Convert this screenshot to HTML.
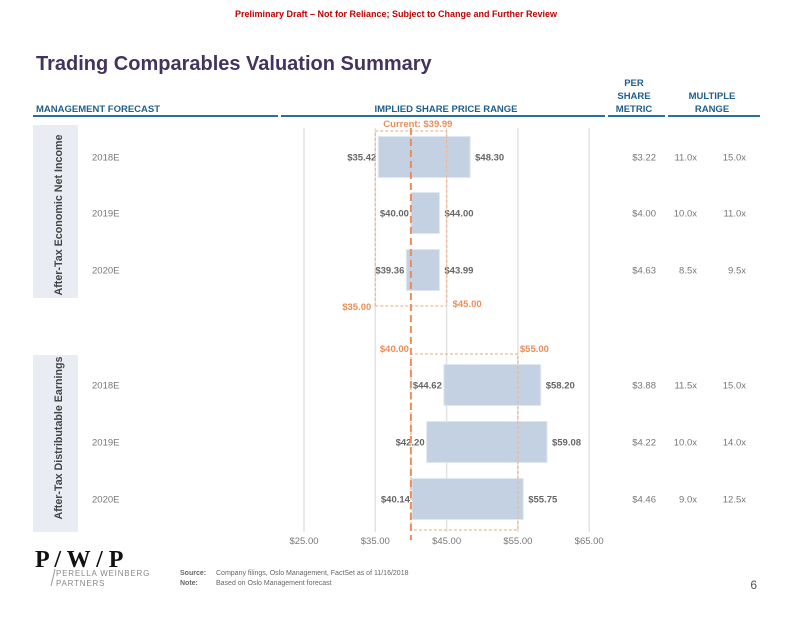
<!DOCTYPE html>
<html><head><meta charset="utf-8"><style>
body{margin:0;background:#fff;font-family:"Liberation Sans",sans-serif}
svg text{font-family:"Liberation Sans",sans-serif}
svg text.serif{font-family:"Liberation Serif",serif}
</style></head><body>
<svg id="c" width="792" height="612" viewBox="0 0 792 612" xmlns="http://www.w3.org/2000/svg">
<text x="396" y="17" text-anchor="middle" font-size="9" font-weight="bold" fill="#c00000">Preliminary Draft – Not for Reliance; Subject to Change and Further Review</text>
<text x="36" y="70" font-size="20" font-weight="bold" fill="#43335f">Trading Comparables Valuation Summary</text>
<g font-size="9.5" font-weight="bold" fill="#1f5f8b">
<text x="36" y="112">MANAGEMENT FORECAST</text>
<text x="446" y="112" text-anchor="middle">IMPLIED SHARE PRICE RANGE</text>
<text x="634" y="86" text-anchor="middle">PER</text>
<text x="634" y="99" text-anchor="middle">SHARE</text>
<text x="634" y="112" text-anchor="middle">METRIC</text>
<text x="712" y="99" text-anchor="middle">MULTIPLE</text>
<text x="712" y="112" text-anchor="middle">RANGE</text>
</g>
<g stroke="#2e6f96" stroke-width="2">
<line x1="33" y1="116" x2="278" y2="116"/><line x1="281" y1="116" x2="605" y2="116"/>
<line x1="608" y1="116" x2="665" y2="116"/><line x1="668" y1="116" x2="760" y2="116"/>
</g>
<rect x="33" y="125" width="45" height="173" fill="#e9edf3"/>
<rect x="33" y="355" width="45" height="177" fill="#e9edf3"/>
<text transform="translate(62,215) rotate(-90)" text-anchor="middle" font-size="11" font-weight="bold" fill="#444" textLength="161" lengthAdjust="spacingAndGlyphs">After-Tax Economic Net Income</text>
<text transform="translate(62,438) rotate(-90)" text-anchor="middle" font-size="11" font-weight="bold" fill="#444" textLength="163" lengthAdjust="spacingAndGlyphs">After-Tax Distributable Earnings</text>
<g id="grid"></g><g id="bars"></g><g id="ref"></g><g id="rows"></g>
<g>
<text class="serif" x="35" y="567" font-size="24" font-weight="bold" fill="#111">P / W / P</text>
<text x="56" y="576" font-size="8" fill="#888" letter-spacing="0.8">PERELLA WEINBERG</text>
<text x="56" y="586" font-size="8" fill="#888" letter-spacing="0.8">PARTNERS</text>
<line x1="51" y1="586" x2="55" y2="569" stroke="#999"/>
</g>
<g font-size="7" fill="#666">
<text x="180" y="575" font-weight="bold">Source:</text><text x="216" y="575">Company filings, Oslo Management, FactSet as of 11/16/2018</text>
<text x="180" y="585" font-weight="bold">Note:</text><text x="216" y="585">Based on Oslo Management forecast</text>
</g>
<text x="757" y="589" font-size="12" fill="#555" text-anchor="end">6</text>
</svg>
<script>
const years=["2018E","2019E","2020E","2018E","2019E","2020E"];
const lows=[35.42,40.00,39.36,44.62,42.20,40.14];
const highs=[48.30,44.00,43.99,58.20,59.08,55.75];
const metrics=["$3.22","$4.00","$4.63","$3.88","$4.22","$4.46"];
const multLow=["11.0x","10.0x","8.5x","11.5x","10.0x","9.0x"];
const multHigh=["15.0x","11.0x","9.5x","15.0x","14.0x","12.5x"];
const ticks=[25,35,45,55,65];
const current=39.99;
const ranges=[[35,45],[40,55]];
const rowY=[157,213,270,385,442,499];
const NS="http://www.w3.org/2000/svg";
const x=v=>304+(v-25)*7.13;
function mk(p,t,a,txt){const e=document.createElementNS(NS,t);for(const k in a)e.setAttribute(k,a[k]);if(txt!=null)e.textContent=txt;p.appendChild(e);return e;}
const G=document.getElementById('grid'),B=document.getElementById('bars'),R=document.getElementById('ref'),W=document.getElementById('rows');
ticks.forEach(t=>{
 const l=mk(G,'line',{x1:x(t),x2:x(t),y1:128,y2:532,stroke:'#e3e3e3','stroke-width':1.5});
 
 
 const tx=mk(G,'text',{x:x(t),y:544,'text-anchor':'middle','font-size':9.5,fill:'#777'},'$'+t.toFixed(2));
 
 
});
lows.forEach((lo,i)=>{
 const y=rowY[i],hi=highs[i];
 const r=mk(B,'rect',{x:x(lo),y:y-20.5,width:x(hi)-x(lo),height:41,fill:'#c3d1e3',stroke:'#dfe7f1'});
 
 
 const a=mk(B,'text',{x:x(lo)-2,y:y+3.5,'text-anchor':'end','font-size':9.5,'font-weight':'bold',fill:'#666'},'$'+lo.toFixed(2));
 
 
 const b=mk(B,'text',{x:x(hi)+5,y:y+3.5,'font-size':9.5,'font-weight':'bold',fill:'#666'},'$'+hi.toFixed(2));
 
 
 const c=mk(W,'text',{x:92,y:y+3.5,'font-size':9.5,fill:'#777'},years[i]);
 
 
 const d=mk(W,'text',{x:656,y:y+3.5,'text-anchor':'end','font-size':9.5,fill:'#777'},metrics[i]);
 
 
 const e=mk(W,'text',{x:697,y:y+3.5,'text-anchor':'end','font-size':9.5,fill:'#777'},multLow[i]);
 
 
 const f=mk(W,'text',{x:746,y:y+3.5,'text-anchor':'end','font-size':9.5,fill:'#777'},multHigh[i]);
 
 
});
const boxY=[[131,306],[354,530]];
ranges.forEach((rg,i)=>{
 const [a,b]=rg,[y1,y2]=boxY[i];
 const p=mk(R,'path',{d:`M${x(a)},${y2} V${y1} H${x(b)} V${y2}`+(i==0?` M${x(a)},${y2} H${x(b)}`:` H${x(a)}`),fill:'none',stroke:'#f2b894','stroke-width':1.3,'stroke-dasharray':'3,2'});
 
 
 const ly=i==0?y2+4:y1-2, ry=i==0?y2+1:y1-2;
 const t1=mk(R,'text',{x:x(a)-(i==0?4:2),y:ly,'text-anchor':'end','font-size':9.5,'font-weight':'bold',fill:'#ee8c59'},'$'+a.toFixed(2));
 
 
 const t2=mk(R,'text',{x:x(b)+(i==0?6:2),y:ry,'font-size':9.5,'font-weight':'bold',fill:'#ee8c59'},'$'+b.toFixed(2));
 
 
});
const cl=mk(R,'line',{x1:x(current),x2:x(current),y1:128,y2:540,stroke:'#ee8c59','stroke-width':2,'stroke-dasharray':'7,4'});


const ct=mk(R,'text',{x:x(current)+7,y:127,'text-anchor':'middle','font-size':9.5,'font-weight':'bold',fill:'#ee8c59'},'Current: $'+current.toFixed(2));


</script>
</body></html>
